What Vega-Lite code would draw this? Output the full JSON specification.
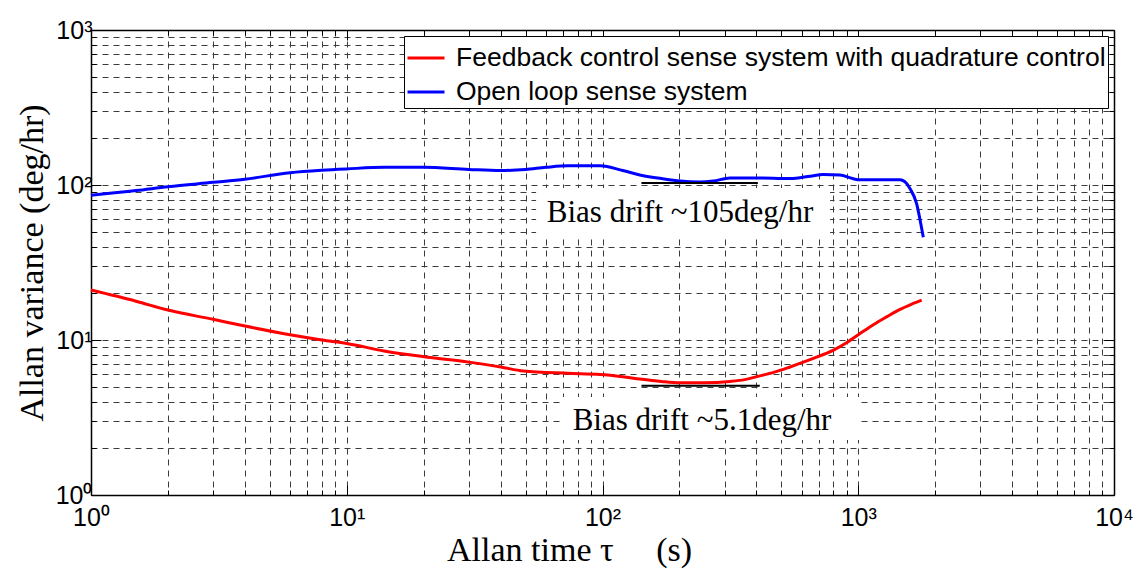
{
  "$schema": "https://vega.github.io/schema/vega-lite/v6.json",
  "width": 1023,
  "height": 465,
  "autosize": {"type": "none"},
  "padding": {"left": 91, "top": 30, "right": 23, "bottom": 74},
  "background": "white",
  "config": {"view": {"stroke": null}, "font": "Liberation Sans"},
  "datasets": {
    "curves": [
      {"series": "Open loop sense system", "tau": 1, "v": 86},
      {"series": "Open loop sense system", "tau": 1.5, "v": 92},
      {"series": "Open loop sense system", "tau": 2, "v": 97.5},
      {"series": "Open loop sense system", "tau": 3, "v": 104},
      {"series": "Open loop sense system", "tau": 4, "v": 109},
      {"series": "Open loop sense system", "tau": 6, "v": 120},
      {"series": "Open loop sense system", "tau": 8, "v": 124.5},
      {"series": "Open loop sense system", "tau": 10, "v": 127},
      {"series": "Open loop sense system", "tau": 14, "v": 130},
      {"series": "Open loop sense system", "tau": 20, "v": 130},
      {"series": "Open loop sense system", "tau": 30, "v": 126},
      {"series": "Open loop sense system", "tau": 40, "v": 124},
      {"series": "Open loop sense system", "tau": 50, "v": 126},
      {"series": "Open loop sense system", "tau": 60, "v": 130},
      {"series": "Open loop sense system", "tau": 73, "v": 133},
      {"series": "Open loop sense system", "tau": 98, "v": 133},
      {"series": "Open loop sense system", "tau": 120, "v": 124},
      {"series": "Open loop sense system", "tau": 140, "v": 116},
      {"series": "Open loop sense system", "tau": 170, "v": 110},
      {"series": "Open loop sense system", "tau": 201, "v": 106},
      {"series": "Open loop sense system", "tau": 240, "v": 104.5},
      {"series": "Open loop sense system", "tau": 271, "v": 106},
      {"series": "Open loop sense system", "tau": 315, "v": 111},
      {"series": "Open loop sense system", "tau": 400, "v": 111},
      {"series": "Open loop sense system", "tau": 541, "v": 110},
      {"series": "Open loop sense system", "tau": 650, "v": 114},
      {"series": "Open loop sense system", "tau": 728, "v": 117},
      {"series": "Open loop sense system", "tau": 848, "v": 116},
      {"series": "Open loop sense system", "tau": 950, "v": 110},
      {"series": "Open loop sense system", "tau": 1016, "v": 108},
      {"series": "Open loop sense system", "tau": 1217, "v": 108},
      {"series": "Open loop sense system", "tau": 1456, "v": 108},
      {"series": "Open loop sense system", "tau": 1540, "v": 103},
      {"series": "Open loop sense system", "tau": 1592, "v": 95},
      {"series": "Open loop sense system", "tau": 1690, "v": 76},
      {"series": "Open loop sense system", "tau": 1750, "v": 58},
      {"series": "Open loop sense system", "tau": 1796, "v": 46},
      {"series": "Feedback control sense system with quadrature control", "tau": 1, "v": 21},
      {"series": "Feedback control sense system with quadrature control", "tau": 1.5, "v": 17.8},
      {"series": "Feedback control sense system with quadrature control", "tau": 2, "v": 15.6},
      {"series": "Feedback control sense system with quadrature control", "tau": 3, "v": 13.6},
      {"series": "Feedback control sense system with quadrature control", "tau": 4, "v": 12.3},
      {"series": "Feedback control sense system with quadrature control", "tau": 6, "v": 10.8},
      {"series": "Feedback control sense system with quadrature control", "tau": 8, "v": 10.0},
      {"series": "Feedback control sense system with quadrature control", "tau": 10, "v": 9.5},
      {"series": "Feedback control sense system with quadrature control", "tau": 14, "v": 8.5},
      {"series": "Feedback control sense system with quadrature control", "tau": 20, "v": 7.8},
      {"series": "Feedback control sense system with quadrature control", "tau": 30, "v": 7.2},
      {"series": "Feedback control sense system with quadrature control", "tau": 40, "v": 6.7},
      {"series": "Feedback control sense system with quadrature control", "tau": 49, "v": 6.3},
      {"series": "Feedback control sense system with quadrature control", "tau": 73, "v": 6.1},
      {"series": "Feedback control sense system with quadrature control", "tau": 98, "v": 6.0},
      {"series": "Feedback control sense system with quadrature control", "tau": 120, "v": 5.8},
      {"series": "Feedback control sense system with quadrature control", "tau": 140, "v": 5.6},
      {"series": "Feedback control sense system with quadrature control", "tau": 170, "v": 5.4},
      {"series": "Feedback control sense system with quadrature control", "tau": 201, "v": 5.3},
      {"series": "Feedback control sense system with quadrature control", "tau": 250, "v": 5.3},
      {"series": "Feedback control sense system with quadrature control", "tau": 315, "v": 5.4},
      {"series": "Feedback control sense system with quadrature control", "tau": 360, "v": 5.55},
      {"series": "Feedback control sense system with quadrature control", "tau": 401, "v": 5.8},
      {"series": "Feedback control sense system with quadrature control", "tau": 470, "v": 6.2},
      {"series": "Feedback control sense system with quadrature control", "tau": 541, "v": 6.7},
      {"series": "Feedback control sense system with quadrature control", "tau": 667, "v": 7.6},
      {"series": "Feedback control sense system with quadrature control", "tau": 800, "v": 8.6},
      {"series": "Feedback control sense system with quadrature control", "tau": 900, "v": 9.6},
      {"series": "Feedback control sense system with quadrature control", "tau": 1016, "v": 11.0},
      {"series": "Feedback control sense system with quadrature control", "tau": 1150, "v": 12.6},
      {"series": "Feedback control sense system with quadrature control", "tau": 1291, "v": 14.1},
      {"series": "Feedback control sense system with quadrature control", "tau": 1450, "v": 15.7},
      {"series": "Feedback control sense system with quadrature control", "tau": 1641, "v": 17.2},
      {"series": "Feedback control sense system with quadrature control", "tau": 1770, "v": 18.1}
    ],
    "boxes": [
      {"tau1": 55, "tau2": 776, "v1": 95.7, "v2": 45.5},
      {"tau1": 70, "tau2": 1016, "v1": 4.29, "v2": 2.26}
    ],
    "rules": [
      {"tau1": 142, "tau2": 405, "v": 103},
      {"tau1": 142, "tau2": 412, "v": 5.07}
    ],
    "labels": [
      {"tau": 201, "v": 57.7, "label": "Bias drift ~105deg/hr"},
      {"tau": 245, "v": 2.62, "label": "Bias drift ~5.1deg/hr"}
    ]
  },
  "resolve": {"axis": {"x": "independent", "y": "independent"}},
  "layer": [
    {
      "data": {"name": "curves"},
      "mark": {"type": "line", "strokeWidth": 3, "interpolate": "monotone"},
      "encoding": {
        "x": {
          "field": "tau", "type": "quantitative",
          "scale": {"type": "log", "domain": [1, 10000], "nice": false},
          "axis": {
            "orient": "bottom",
            "values": [1,2,3,4,5,6,7,8,9,10,20,30,40,50,60,70,80,90,100,200,300,400,500,600,700,800,900,1000,2000,3000,4000,5000,6000,7000,8000,9000,10000],
            "labelExpr": "datum.value == 1 ? '10⁰' : datum.value == 10 ? '10¹' : datum.value == 100 ? '10²' : datum.value == 1000 ? '10³' : datum.value == 10000 ? '10⁴' : ''",
            "labelFont": "Liberation Sans", "labelFontSize": 25, "labelColor": "black",
            "labelPadding": 20, "labelFlush": false, "labelOverlap": false,
            "grid": true, "gridDash": [6, 5], "gridColor": "#3c3c3c", "gridWidth": 1,
            "gridOpacity": {"condition": {"test": "datum.value == 1 || datum.value == 10000", "value": 0}, "value": 1},
            "domain": true, "domainColor": "black", "domainWidth": 1.5,
            "ticks": true, "tickColor": "black", "tickWidth": 1,
            "tickSize": {"condition": {"test": "datum.value == 1 || datum.value == 10 || datum.value == 100 || datum.value == 1000 || datum.value == 10000", "value": -10}, "value": -5},
            "title": "Allan time τ\u00a0\u00a0\u00a0\u00a0\u00a0(s)", "titleFont": "Liberation Serif", "titleFontSize": 34, "titleFontWeight": "normal", "titleColor": "black",
            "titleX": 478, "titleY": 65, "titleAlign": "center", "titleBaseline": "alphabetic", "titleAnchor": null
          }
        },
        "y": {
          "field": "v", "type": "quantitative",
          "scale": {"type": "log", "domain": [1, 1000], "nice": false},
          "axis": {
            "orient": "left",
            "values": [1,2,3,4,5,6,7,8,9,10,20,30,40,50,60,70,80,90,100,200,300,400,500,600,700,800,900,1000],
            "labelExpr": "datum.value == 1 ? '10⁰' : datum.value == 10 ? '10¹' : datum.value == 100 ? '10²' : datum.value == 1000 ? '10³' : ''",
            "labelFont": "Liberation Sans", "labelFontSize": 25, "labelColor": "black",
            "labelPadding": 9, "labelFlush": false, "labelOverlap": false,
            "grid": true, "gridDash": [6, 5], "gridColor": "#3c3c3c", "gridWidth": 1,
            "gridOpacity": {"condition": {"test": "datum.value == 1 || datum.value == 1000", "value": 0}, "value": 1},
            "domain": true, "domainColor": "black", "domainWidth": 1.5,
            "ticks": true, "tickColor": "black", "tickWidth": 1,
            "tickSize": {"condition": {"test": "datum.value == 1 || datum.value == 10 || datum.value == 100 || datum.value == 1000", "value": -10}, "value": -5},
            "title": "Allan variance (deg/hr)", "titleFont": "Liberation Serif", "titleFontSize": 34, "titleFontWeight": "normal", "titleColor": "black", "titlePadding": 6
          }
        },
        "color": {
          "field": "series", "type": "nominal",
          "scale": {"domain": ["Feedback control sense system with quadrature control", "Open loop sense system"], "range": ["#ff0000", "#0000ff"]},
          "legend": {
            "orient": "none", "legendX": 313, "legendY": 6, "title": null,
            "labelFont": "Liberation Sans", "labelFontSize": 26.5, "labelColor": "black", "labelLimit": 1000,
            "symbolType": "stroke", "symbolSize": 1369, "symbolStrokeWidth": 3,
            "labelOffset": 10, "padding": 2, "rowPadding": 0,
            "fillColor": "white", "strokeColor": "black", "cornerRadius": 0
          }
        }
      }
    },
    {
      "data": {"name": "boxes"},
      "mark": {"type": "rect", "fill": "white"},
      "encoding": {
        "x": {"field": "tau1", "type": "quantitative", "scale": {"type": "log", "domain": [1, 10000], "nice": false}, "axis": null},
        "x2": {"field": "tau2"},
        "y": {"field": "v1", "type": "quantitative", "scale": {"type": "log", "domain": [1, 1000], "nice": false}, "axis": null},
        "y2": {"field": "v2"}
      }
    },
    {
      "data": {"name": "rules"},
      "mark": {"type": "rule", "color": "black", "strokeWidth": 2},
      "encoding": {
        "x": {
          "field": "tau1", "type": "quantitative", "scale": {"type": "log", "domain": [1, 10000], "nice": false},
          "axis": {
            "orient": "top",
            "values": [1,2,3,4,5,6,7,8,9,10,20,30,40,50,60,70,80,90,100,200,300,400,500,600,700,800,900,1000,2000,3000,4000,5000,6000,7000,8000,9000,10000],
            "labels": false, "grid": false, "title": null,
            "domain": true, "domainColor": "black", "domainWidth": 1.5,
            "ticks": true, "tickColor": "black", "tickWidth": 1,
            "tickSize": {"condition": {"test": "datum.value == 1 || datum.value == 10 || datum.value == 100 || datum.value == 1000 || datum.value == 10000", "value": -10}, "value": -5}
          }
        },
        "x2": {"field": "tau2"},
        "y": {
          "field": "v", "type": "quantitative", "scale": {"type": "log", "domain": [1, 1000], "nice": false},
          "axis": {
            "orient": "right",
            "values": [1,2,3,4,5,6,7,8,9,10,20,30,40,50,60,70,80,90,100,200,300,400,500,600,700,800,900,1000],
            "labels": false, "grid": false, "title": null,
            "domain": true, "domainColor": "black", "domainWidth": 1.5,
            "ticks": true, "tickColor": "black", "tickWidth": 1,
            "tickSize": {"condition": {"test": "datum.value == 1 || datum.value == 10 || datum.value == 100 || datum.value == 1000", "value": -10}, "value": -5}
          }
        }
      }
    },
    {
      "data": {"name": "labels"},
      "mark": {"type": "text", "font": "Liberation Serif", "fontSize": 31, "color": "black", "align": "center", "baseline": "alphabetic"},
      "encoding": {
        "x": {"field": "tau", "type": "quantitative", "scale": {"type": "log", "domain": [1, 10000], "nice": false}, "axis": null},
        "y": {"field": "v", "type": "quantitative", "scale": {"type": "log", "domain": [1, 1000], "nice": false}, "axis": null},
        "text": {"field": "label"}
      }
    }
  ]
}
